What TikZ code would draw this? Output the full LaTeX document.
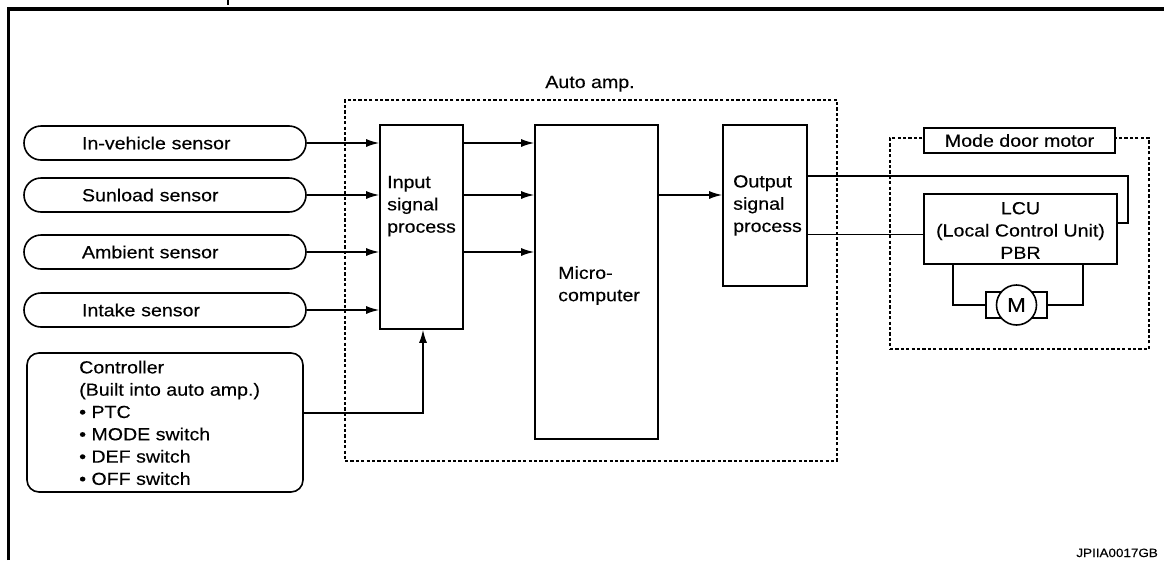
\documentclass[tikz,border=0pt]{standalone}
\usepackage{fontspec}
\setmainfont{Liberation Sans}[FakeStretch=1.12,FakeBold=0.3]
\usetikzlibrary{arrows.meta}
\begin{document}
\begin{tikzpicture}[x=1pt,y=-1pt,
  txt/.style={font=\fontsize{17.5}{22.3}\selectfont},
  box/.style={draw, line width=1.6pt, inner sep=0pt},
  sensor/.style={box, txt, rounded corners=17pt, minimum height=34pt,
     text width=166pt, inner xsep=58pt, align=left},
  lbl/.style={txt, inner sep=0pt, align=left, anchor=north west},
  dbox/.style={draw, line width=1.2pt, dash pattern=on 3.2pt off 2.2pt, inner sep=0pt},
  conn/.style={line width=1.5pt},
  arr/.style={conn, -{Latex[length=13pt,width=8pt]}}]
\useasboundingbox (0,0) rectangle (1164,560);
% outer frame
\draw[line width=3.2pt] (8.5,560) -- (8.5,9) -- (1164,9);
\draw[line width=2pt] (228,0) -- (228,5);
% auto amp
\node[dbox, minimum width=492pt, minimum height=361pt] (amp) at (591,280.5) {};
\node[txt, inner sep=0pt, anchor=base] (amplbl) at (590,88) {Auto amp.};
% sensors
\node[sensor] (s1) at (165,143) {In-vehicle sensor};
\node[sensor] (s2) at (165,195) {Sunload sensor};
\node[sensor] (s3) at (165,252) {Ambient sensor};
\node[sensor] (s4) at (165,310) {Intake sensor};
% controller
\node[box, rounded corners=12pt, minimum width=276pt, minimum height=139pt] (ctrl) at (165,422.5) {};
\node[lbl] (ctrltxt) at (79,360.5) {Controller\\(Built into auto amp.)\\• PTC\\• MODE switch\\• DEF switch\\• OFF switch};
% blocks
\node[box, minimum width=83pt, minimum height=204pt] (in) at (421.5,227) {};
\node[lbl] (intxt) at (387,175.8) {Input\\signal\\process};
\node[box, minimum width=123pt, minimum height=314pt] (micro) at (596.5,282) {};
\node[lbl] (microtxt) at (558,266) {Micro-\\computer};
\node[box, minimum width=84pt, minimum height=161pt] (out) at (765,205.5) {};
\node[lbl] (outtxt) at (733,175) {Output\\signal\\process};
% mode door motor
\node[dbox, minimum width=259pt, minimum height=211pt] (mdm) at (1019.5,243.5) {};
\node[box, txt, fill=white, minimum width=191pt, minimum height=25pt] (mdmlbl) at (1019.5,140.5) {Mode door motor};
\node[box, minimum width=193pt, minimum height=70pt] (lcu) at (1020.5,229) {};
\node[txt, inner sep=0pt, align=center, anchor=north] (lcutxt) at (1020.5,201.8) {LCU\\(Local Control Unit)\\PBR};
\node[box, minimum width=61pt, minimum height=26pt] (mrect) at (1016.5,305) {};
\node[box, circle, fill=white, minimum size=40pt, txt, font=\fontsize{20}{20}\selectfont] (motor) at (1016.5,305) {M};
% connectors
\draw[arr] (s1.east) -- (s1.east -| in.west);
\draw[arr] (s2.east) -- (s2.east -| in.west);
\draw[arr] (s3.east) -- (s3.east -| in.west);
\draw[arr] (s4.east) -- (s4.east -| in.west);
\draw[arr] (in.east |- s1) -- (micro.west |- s1);
\draw[arr] (in.east |- s2) -- (micro.west |- s2);
\draw[arr] (in.east |- s3) -- (micro.west |- s3);
\draw[arr] (micro.east |- s2) -- (out.west |- s2);
\coordinate (c4) at (423,413);
\draw[arr] (ctrl.east |- c4) -- (c4) -- (c4 |- in.south);
\coordinate (c1) at (1128,176);
\coordinate (c2) at (1128,223);
\draw[conn] (out.east |- c1) -- (c1) -- (c2) -- (lcu.east |- c2);
\coordinate (c3) at (900,234.5);
\draw[conn] (out.east |- c3) -- (lcu.west |- c3);
\coordinate (m1) at (953,305);
\coordinate (m2) at (1083,305);
\draw[conn] (mrect.west) -- (m1) -- (m1 |- lcu.south);
\draw[conn] (mrect.east) -- (m2) -- (m2 |- lcu.south);
\node[font=\fontsize{12}{12}\selectfont, inner sep=0pt, anchor=base east] (code) at (1158,557) {JPIIA0017GB};
\end{tikzpicture}
\end{document}
